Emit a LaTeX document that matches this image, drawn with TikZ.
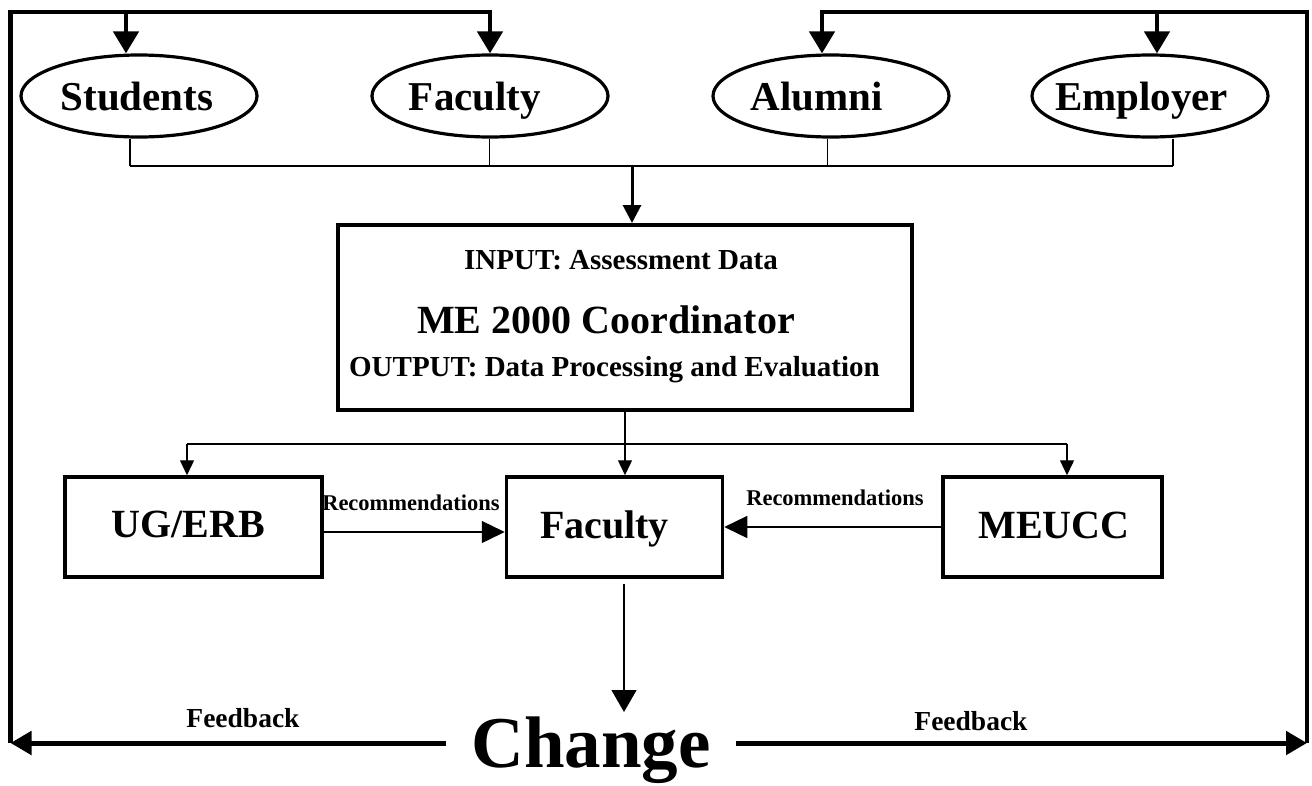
\documentclass[tikz,border=0pt]{standalone}
\usepackage{fontspec}
\setmainfont{Liberation Serif}
\usetikzlibrary{arrows.meta,shapes.geometric}
\tikzset{
  ell/.style={draw, ellipse, line width=3.2pt, minimum width=236pt, minimum height=82pt, inner sep=0pt},
  bigtxt/.style={anchor=base, inner sep=0pt, font=\fontsize{40}{44}\selectfont\bfseries},
  elltxt/.style={anchor=base, inner sep=0pt, font=\fontsize{41}{44}\selectfont\bfseries},
  midtxt/.style={anchor=base, inner sep=0pt, font=\fontsize{29}{32}\selectfont\bfseries},
  rectxt/.style={anchor=base, inner sep=0pt, font=\fontsize{22.5}{25}\selectfont\bfseries},
  fbtxt/.style={anchor=base, inner sep=0pt, font=\fontsize{27.5}{30}\selectfont\bfseries},
  chtxt/.style={anchor=base, inner sep=0pt, inner xsep=25pt, font=\fontsize{73}{80}\selectfont\bfseries},
  cobox/.style={draw, line width=4pt, minimum width=574pt, minimum height=185pt, inner sep=0pt},
  lowbox/.style={draw, line width=3.5pt, minimum height=100pt, inner sep=0pt},
  loopline/.style={line width=4.5pt},
  botline/.style={line width=5pt},
  thinline/.style={line width=1.3pt},
  midline/.style={line width=3pt},
  looptip/.style={-{Triangle[length=22pt,width=25pt]}},
  bottip/.style={-{Triangle[length=21pt,width=23pt]}},
  smalltip/.style={-{Triangle[length=15pt,width=14pt]}},
  midtip/.style={-{Triangle[length=18pt,width=18pt]}},
  rectip/.style={-{Triangle[length=23pt,width=22pt]}},
  chtip/.style={-{Triangle[length=22pt,width=25pt]}},
}
\begin{document}
\begin{tikzpicture}[x=1pt,y=-1pt]
\useasboundingbox (0,0) rectangle (1312,785);
% stakeholder ellipses
\node[ell] (e1) at (139,96) {};
\node[ell] (e2) at (490,96) {};
\node[ell] (e3) at (831,96) {};
\node[ell] (e4) at (1150,96) {};
\node[elltxt] (t1) at (137,110) {Students};
\node[elltxt] (t2) at (475,110) {Faculty};
\node[elltxt] (t3) at (816.6,110) {Alumni};
\node[elltxt] (t4) at (1141.6,110) {Employer};
% coordinator box
\node[cobox] (co) at (625,317.5) {};
\node[midtxt] (in1) at (621,269.5) {INPUT: Assessment Data};
\node[bigtxt] (in2) at (606,333) {ME 2000 Coordinator};
\node[midtxt] (in3) at (614.5,376.5) {OUTPUT: Data Processing and Evaluation};
% lower boxes
\node[lowbox, minimum width=257pt] (ug) at (193.5,527) {};
\node[lowbox, minimum width=216pt] (fb) at (614.5,527) {};
\node[lowbox, minimum width=219pt] (me) at (1052.5,527) {};
\node[bigtxt] (ugt) at (188,537) {UG/ERB};
\node[bigtxt] (fbt) at (604.5,538) {Faculty};
\node[bigtxt] (met) at (1054,538) {MEUCC};
\node[rectxt] (r1) at (411,510) {Recommendations};
\node[rectxt] (r2) at (835,505) {Recommendations};
% change
\node[chtxt] (chg) at (591,767) {Change};
\node[fbtxt] (f1) at (243,727) {Feedback};
\node[fbtxt] (f2) at (971,730) {Feedback};
% coordinates
\coordinate (BL) at (10.5,743);
\coordinate (TL) at (10.5,12);
\coordinate (aS) at (126,12);
\coordinate (aF) at (490,12);
\coordinate (BR) at (1307,743);
\coordinate (TR) at (1307,12);
\coordinate (aA) at (822,12);
\coordinate (aE) at (1157,12);
\coordinate (c1) at (130,166);
\coordinate (c2) at (489.5,166);
\coordinate (c3) at (827.6,166);
\coordinate (c4) at (1173,166);
\coordinate (cm) at (632,166);
\coordinate (dL) at (187,444);
\coordinate (dR) at (1067,444);
\coordinate (cT) at (624,712);
% feedback loops
\draw[loopline, looptip] (BL) -- (TL) -- (aF) -- (aF |- e2.north);
\draw[loopline, looptip] (aS) -- (aS |- e1.north);
\draw[loopline, looptip] (BR) -- (TR) -- (aA) -- (aA |- e3.north);
\draw[loopline, looptip] (aE) -- (aE |- e4.north);
\draw[botline, bottip] (chg.west |- BL) -- (BL);
\draw[botline, bottip] (chg.east |- BR) -- (BR);
% collection of data
\draw[thinline] (c1 |- e1.south) -- (c1);
\draw[thinline] (c2 |- e2.south) -- (c2);
\draw[thinline] (c3 |- e3.south) -- (c3);
\draw[thinline] (c4 |- e4.south) -- (c4);
\draw[thinline] (c1) -- (c4);
\draw[midline, midtip] (cm) -- (cm |- co.north);
% distribution
\draw[thinline, smalltip] (co.south) -- (co.south |- fb.north);
\draw[thinline] (dL) -- (dR);
\draw[thinline, smalltip] (dL) -- (dL |- ug.north);
\draw[thinline, smalltip] (dR) -- (dR |- me.north);
% recommendations
\draw[thinline, rectip] ([yshift=-5pt]ug.east) -- ([yshift=-5pt]fb.west);
\draw[thinline, rectip] (me.west) -- (fb.east);
% to change
\draw[thinline, chtip] ([yshift=-5pt]fb.south -| cT) -- (cT);
\end{tikzpicture}
\end{document}
